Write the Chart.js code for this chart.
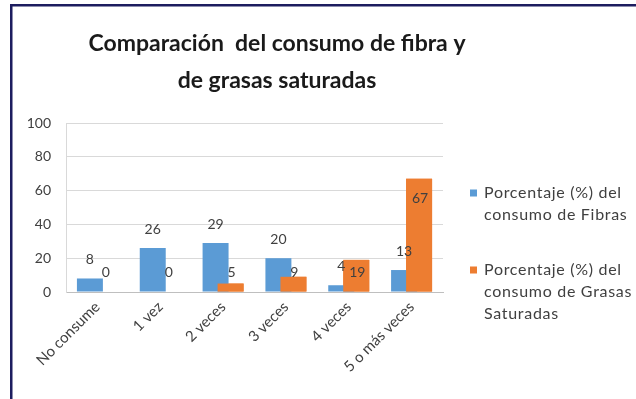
<!DOCTYPE html>
<html><head><meta charset="utf-8">
<script src="https://cdn.jsdelivr.net/npm/chart.js@4"></script>
<style>html,body{margin:0;padding:0;background:#fff}canvas{display:block}</style>
</head><body>
<canvas id="c" width="636" height="399"></canvas>
<script>
const categories = ['No consume', '1 vez', '2 veces', '3 veces', '4 veces', '5 o más veces'];
const fibras = [8, 26, 29, 20, 4, 13];
const grasas = [0, 0, 5, 9, 19, 67];
const seriesFibras = ['Porcentaje (%) del', 'consumo de Fibras'];
const seriesGrasas = ['Porcentaje (%) del', 'consumo de Grasas', 'Saturadas'];
const titleLines = ['Comparación  del consumo de fibra y', 'de grasas saturadas'];
const yTicks = [0, 20, 40, 60, 80, 100];

const BLUE = '#5B9BD5';
const ORANGE = '#ED7D31';
const FONT = 'Lato, "Open Sans", sans-serif';

const framePlugin = {
  id: 'frame',
  beforeDraw(chart) {
    const ctx = chart.ctx;
    ctx.save();
    ctx.fillStyle = '#ffffff';
    ctx.fillRect(0, 0, chart.width, chart.height);
    ctx.fillStyle = '#1d1d5f';
    ctx.fillRect(10, 4, chart.width - 10, 2.5);
    ctx.fillRect(10, 4, 2.5, chart.height - 4);
    ctx.restore();
  }
};

const titlePlugin = {
  id: 'customTitle',
  afterDraw(chart) {
    const ctx = chart.ctx;
    ctx.save();
    ctx.fillStyle = '#1a1a1a';
    ctx.textAlign = 'center';
    ctx.textBaseline = 'alphabetic';
    let size = 26;
    ctx.font = 'bold ' + size + 'px ' + FONT;
    const w = ctx.measureText(titleLines[0]).width;
    size = size * 377 / w;
    ctx.font = 'bold ' + size.toFixed(2) + 'px ' + FONT;
    ctx.fillText(titleLines[0], 277, 51);
    ctx.fillText(titleLines[1], 277, 88);
    ctx.restore();
  }
};

const legendPlugin = {
  id: 'customLegend',
  afterDraw(chart) {
    const ctx = chart.ctx;
    ctx.save();
    ctx.font = '16px ' + FONT;
    if ('letterSpacing' in ctx) ctx.letterSpacing = '0.7px';
    ctx.textBaseline = 'middle';
    ctx.textAlign = 'left';
    const items = [
      { color: BLUE, lines: seriesFibras, y: 193 },
      { color: ORANGE, lines: seriesGrasas, y: 270 }
    ];
    items.forEach(it => {
      ctx.fillStyle = it.color;
      ctx.fillRect(470, it.y - 3.5, 7, 7);
      ctx.fillStyle = '#404040';
      it.lines.forEach((t, i) => ctx.fillText(t, 484, it.y + i * 22));
    });
    ctx.restore();
  }
};

const labelsPlugin = {
  id: 'barLabels',
  afterDatasetsDraw(chart) {
    // orange series overlaps the blue one, drawn on top
    chart.getDatasetMeta(1).controller.draw();
    const ctx = chart.ctx;
    ctx.save();
    ctx.font = '14px ' + FONT;
    ctx.fillStyle = '#404040';
    ctx.textAlign = 'center';
    ctx.textBaseline = 'middle';
    const base = chart.scales.y.getPixelForValue(0);
    chart.getDatasetMeta(0).data.forEach((bar, i) => {
      ctx.fillText(String(fibras[i]), bar.x, bar.y - 19);
    });
    chart.getDatasetMeta(1).data.forEach((bar, i) => {
      ctx.fillText(String(grasas[i]), bar.x + 1, Math.min(bar.y + 20, base - 20));
    });
    ctx.restore();
  }
};

function build() {
  new Chart(document.getElementById('c'), {
    type: 'bar',
    data: {
      labels: categories,
      datasets: [
        { label: seriesFibras.join(' '), data: fibras, backgroundColor: BLUE, categoryPercentage: 0.478, barPercentage: 1.73 },
        { label: seriesGrasas.join(' '), data: grasas, backgroundColor: ORANGE, categoryPercentage: 0.478, barPercentage: 1.73 }
      ]
    },
    options: {
      responsive: false,
      animation: false,
      layout: { padding: { top: 123, right: 193, bottom: 0, left: 0 } },
      plugins: { legend: { display: false }, title: { display: false }, tooltip: { enabled: false } },
      scales: {
        x: {
          grid: { display: false, drawTicks: false },
          border: { display: true, color: '#bfbfbf' },
          ticks: {
            autoSkip: false, maxRotation: 45, minRotation: 45,
            color: '#404040', font: { family: FONT, size: 15 }, padding: 6
          },
          afterFit(scale) { scale.height = 107; }
        },
        y: {
          min: yTicks[0], max: yTicks[yTicks.length - 1],
          grid: { color: '#d9d9d9', drawTicks: false },
          border: { display: true, color: '#d9d9d9' },
          ticks: {
            stepSize: yTicks[1] - yTicks[0],
            color: '#404040', font: { family: FONT, size: 14 }, padding: 15
          },
          afterFit(scale) { scale.width = 66; }
        }
      }
    },
    plugins: [framePlugin, labelsPlugin, titlePlugin, legendPlugin]
  });
}

if (document.fonts && document.fonts.load) {
  Promise.all([
    document.fonts.load('bold 26px Lato'),
    document.fonts.load('15px Lato')
  ]).then(build, build);
} else {
  build();
}
</script>
</body></html>
